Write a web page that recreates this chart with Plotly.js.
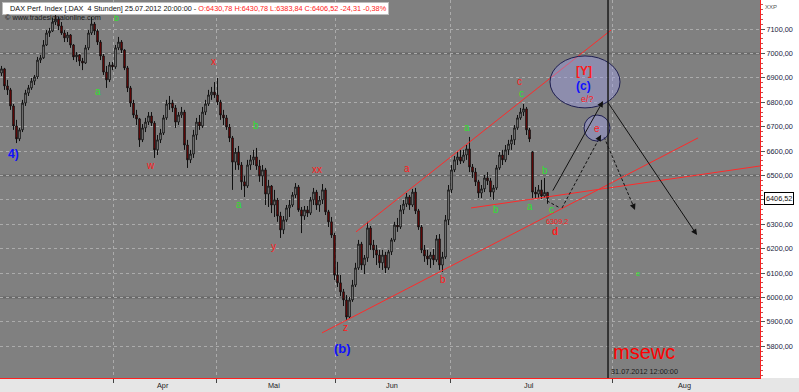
<!DOCTYPE html>
<html><head><meta charset="utf-8">
<script src="https://cdn.plot.ly/plotly-3.0.1.min.js"></script>
<style>html,body{margin:0;padding:0;background:#fff;}#chart{width:799px;height:392px;}</style>
</head><body><div id="chart"></div>
<script>
// ---- DAX 4h bars ----
const openP = [6920,6937,6867,6851,6785,6703,6650,6687,6797,6838,
6859,6887,6904,6973,6982,7035,7084,7092,7129,7141,
7113,7084,7064,7076,7035,6986,6994,6969,6961,7023,
7084,7121,7092,7047,6990,6924,6892,6953,6945,7023,
7047,7014,6941,6859,6797,6748,6732,6646,6695,6719,
6744,6715,6605,6646,6674,6736,6793,6797,6777,6719,
6748,6760,6625,6564,6588,6666,6719,6703,6760,6793,
6830,6842,6830,6801,6748,6736,6699,6654,6555,6596,
6543,6474,6457,6543,6564,6576,6539,6498,6523,6424,
6457,6379,6400,6334,6277,6318,6367,6379,6420,6453,
6359,6334,6359,6346,6400,6432,6379,6400,6441,6351,
6310,6256,6092,6060,6023,5990,5920,5990,6051,6121,
6219,6133,6162,6285,6215,6195,6174,6142,6174,6121,
6187,6236,6297,6289,6359,6383,6412,6379,6432,6355,
6289,6195,6170,6158,6174,6154,6240,6133,6166,6318,
6441,6523,6564,6576,6559,6584,6609,6535,6514,6474,
6428,6445,6490,6478,6432,6449,6531,6584,6564,6605,
6629,6646,6695,6736,6760,6773,6687,6596,6432,6424,
6441,6416,6430.78];
const highP = [6949,6941,6892,6859,6793,6728,6695,6810,6851,6871,
6900,6912,6986,6994,7055,7096,7105,7146,7162,7150,
7129,7096,7088,7080,7039,7006,6998,6982,7035,7096,
7150,7129,7100,7055,6998,6949,6965,6965,7035,7068,
7055,7018,6949,6867,6810,6769,6736,6711,6736,6760,
6760,6723,6666,6691,6748,6810,6826,6810,6789,6760,
6781,6769,6646,6605,6687,6736,6748,6781,6810,6851,
6863,6883,6900,6810,6769,6748,6711,6662,6613,6621,
6555,6498,6564,6584,6605,6613,6564,6543,6531,6482,
6461,6441,6408,6351,6334,6379,6400,6432,6469,6461,
6371,6375,6375,6412,6449,6441,6416,6465,6449,6359,
6330,6265,6146,6092,6035,6010,6002,6072,6142,6236,
6228,6174,6310,6293,6236,6215,6195,6195,6187,6195,
6244,6310,6326,6379,6400,6428,6420,6445,6449,6363,
6297,6215,6195,6187,6199,6256,6260,6187,6338,6461,
6543,6580,6596,6605,6605,6625,6658,6547,6531,6482,
6461,6502,6514,6490,6461,6543,6596,6605,6625,6646,
6666,6707,6748,6777,6793,6781,6695,6600,6453,6461,
6482,6490,6430.78];
const lowP = [6908,6851,6830,6769,6687,6633,6641,6678,6785,6826,
6851,6871,6896,6961,6978,7031,7068,7088,7117,7096,
7076,7047,7047,7023,6973,6965,6949,6932,6957,7014,
7076,7076,7035,6973,6912,6859,6883,6932,6937,7014,
7002,6932,6842,6781,6736,6707,6617,6637,6678,6707,
6703,6572,6584,6633,6666,6728,6769,6760,6695,6707,
6736,6605,6531,6551,6572,6646,6687,6695,6748,6785,
6810,6818,6789,6728,6707,6687,6637,6441,6523,6523,
6441,6412,6449,6523,6543,6523,6474,6457,6379,6371,
6346,6330,6310,6244,6260,6310,6330,6371,6408,6351,
6264,6318,6330,6338,6379,6359,6351,6383,6338,6289,
6244,6072,6043,6006,5965,5908,5912,5982,6043,6113,
6113,6096,6146,6195,6162,6133,6121,6113,6100,6113,
6174,6228,6269,6281,6342,6371,6359,6371,6342,6277,
6182,6146,6133,6121,6133,6146,6113,6105,6158,6297,
6428,6514,6543,6547,6551,6564,6514,6490,6457,6408,
6408,6432,6461,6412,6400,6441,6523,6543,6555,6584,
6605,6625,6687,6728,6744,6666,6637,6408,6408,6408,
6404,6408,6383.84];
const closeP = [6937,6867,6851,6785,6703,6650,6687,6797,6838,6859,
6887,6904,6973,6982,7035,7084,7092,7129,7141,7113,
7084,7064,7076,7035,6986,6994,6969,6961,7023,7084,
7121,7092,7047,6990,6924,6892,6953,6945,7023,7047,
7014,6941,6859,6797,6748,6732,6646,6695,6719,6744,
6715,6605,6646,6674,6736,6793,6797,6777,6719,6748,
6760,6625,6564,6588,6666,6719,6703,6760,6793,6830,
6842,6830,6801,6748,6736,6699,6654,6555,6596,6543,
6474,6457,6543,6564,6576,6539,6498,6523,6424,6457,
6379,6400,6334,6277,6318,6367,6379,6420,6453,6359,
6334,6359,6346,6400,6432,6379,6400,6441,6351,6310,
6256,6092,6060,6023,5990,5920,5990,6051,6121,6219,
6133,6162,6285,6215,6195,6174,6142,6174,6121,6187,
6236,6297,6289,6359,6383,6412,6379,6432,6355,6289,
6195,6170,6158,6174,6154,6240,6133,6166,6318,6441,
6523,6564,6576,6559,6584,6609,6535,6514,6474,6428,
6445,6490,6478,6432,6449,6531,6584,6564,6605,6629,
6646,6695,6736,6760,6773,6687,6650,6432,6424,6441,
6416,6431,6406.52];

const monthLabels = ['Apr','Mai','Jun','Jul','Aug'];
const monthStartBar = [37.17, 71.5, 111.17, 149.5, 203.5];
const monthLabelBar = [53.83, 90.83, 130.17, 175.83, 227.5];
const priceTicks = [5800,5900,6000,6100,6200,6300,6400,6500,6600,6700,6800,6900,7000,7100];
const strongLevels = [6000,6500,7000];
const lastClose = 6406.52;
const cursorBar = 202.17;

// drawn analysis lines (bar index, price)
const upperChannelX = [118.17, 203.17], upperChannelY = [6269, 7096];
const lowerChannelX = [106.83, 232.17], lowerChannelY = [5855, 6654];
const baseLineX = [156.5, 252.83], baseLineY = [6367, 6539];
const solidArrows = [[183.5,6432,200.5,6805],[201.83,6805,231.83,6256]];
const dashedArrows = [[186.83,6367,199.83,6666],[200.83,6658,211.17,6359],[181.83,6396,186.17,6367]];

const GREEN = '#2fe02f', RED = '#ff1a1a', BLUE = '#1010ff';
const waveLabels = [
 ['b',38.2,7146,GREEN,9],['a',32.3,6846,GREEN,10],['x',70.6,6966,RED,10],
 ['b',84.7,6703,GREEN,10],['w',49.7,6543,RED,10],['a',79.3,6382,GREEN,10],
 ['xx',105.3,6525,RED,10],['y',90.6,6208,RED,10],['a',135.3,6530,RED,10],
 ['z',114.5,5876,RED,10],['b',147.3,6075,RED,10],['a',155.3,6696,GREEN,10],
 ['c',172.5,6887,RED,10],['c',173.2,6837,GREEN,10],['b',164.8,6362,GREEN,10],
 ['a',176.2,6372,GREEN,10],['b',181,6520,GREEN,10],['c',183.4,6359,GREEN,10],
 ['6309,2',185.1,6310,RED,7.3],['e',212.2,6099,GREEN,7.5]
];

const idx = closeP.map((_, i) => i);
const traces = [{
  type:'candlestick', x: idx, open: openP, high: highP, low: lowP, close: closeP,
  increasing:{line:{color:'#101010',width:1}, fillcolor:'#bdbdbd'},
  decreasing:{line:{color:'#101010',width:1}, fillcolor:'#a00000'},
  whiskerwidth:0, hoverinfo:'skip', showlegend:false
},{
  type:'scatter', mode:'lines', x: upperChannelX, y: upperChannelY, line:{color:'#ff2a2a',width:1}, hoverinfo:'skip'
},{
  type:'scatter', mode:'lines', x: lowerChannelX, y: lowerChannelY, line:{color:'#ff2a2a',width:1}, hoverinfo:'skip'
},{
  type:'scatter', mode:'lines', x: baseLineX, y: baseLineY, line:{color:'#ff2a2a',width:1}, hoverinfo:'skip'
}];
dashedArrows.forEach(a => traces.push({type:'scatter', mode:'lines', x:[a[0],a[2]], y:[a[1],a[3]],
  line:{color:'#111',width:1,dash:'3px,2px'}, hoverinfo:'skip'}));

const shapes = [];
strongLevels.forEach(v => shapes.push({type:'line', xref:'paper', x0:0, x1:1, yref:'y', y0:v, y1:v,
  line:{color:'#676767', width:2}, layer:'between'}));
shapes.push({type:'rect', xref:'paper', x0:-0.01, x1:1.07, yref:'paper', y0:-0.06, y1:0,
  fillcolor:'#e6e6e6', line:{width:0}, layer:'below'});
shapes.push({type:'circle', xref:'x', yref:'y', x0:182.83, x1:206.17, y0:6777, y1:6990,
  fillcolor:'rgba(160,160,240,0.4)', line:{color:'#1e1e50', width:1}, layer:'above'});
shapes.push({type:'circle', xref:'x', yref:'y', x0:194.17, x1:202.83, y0:6641, y1:6748,
  fillcolor:'rgba(160,160,240,0.4)', line:{color:'#1e1e50', width:1}, layer:'above'});
shapes.push({type:'line', xref:'x', x0:cursorBar, x1:cursorBar, yref:'paper', y0:0, y1:1,
  line:{color:'#1a1a1a', width:1.5}, layer:'above'});
shapes.push({type:'circle', xref:'paper', yref:'paper', x0:3/760, x1:8/760, y0:1-10/378, y1:1-5/378,
  line:{color:'#333',width:1}, fillcolor:'rgba(0,0,0,0)'});

const ann = [];
const FONT = 'Liberation Sans, Arial, sans-serif';
waveLabels.forEach(w => ann.push({xref:'x', yref:'y', x:w[1], y:w[2], text:w[0], showarrow:false,
  font:{family:FONT, size:w[4], color:w[3]}}));
ann.push({xref:'x',yref:'y',x:184.5,y:6272,text:'<b>d</b>',showarrow:false,font:{family:FONT,size:10,color:RED}});
ann.push({xref:'x',yref:'y',x:1.5,y:6588,text:'<b>4)</b>',showarrow:false,xanchor:'left',font:{family:FONT,size:12,color:BLUE}});
ann.push({xref:'x',yref:'y',x:113.7,y:5792,text:'<b>(b)</b>',showarrow:false,font:{family:FONT,size:13,color:BLUE}});
ann.push({xref:'x',yref:'y',x:194.2,y:6930,text:'<b>[Y]</b>',showarrow:false,font:{family:FONT,size:12,color:RED}});
ann.push({xref:'x',yref:'y',x:193.9,y:6868,text:'<b>(c)</b>',showarrow:false,font:{family:FONT,size:12,color:BLUE}});
ann.push({xref:'x',yref:'y',x:195.2,y:6815,text:'e/?',showarrow:false,font:{family:FONT,size:9,color:RED}});
ann.push({xref:'x',yref:'y',x:198.5,y:6693,text:'e',showarrow:false,font:{family:FONT,size:10,color:RED}});
ann.push({xref:'x',yref:'y',x:203.2,y:5777,text:'msewc',showarrow:false,xanchor:'left',font:{family:FONT,size:20,color:'#ff0000'}});
ann.push({xref:'x',yref:'y',x:202.5,y:5695,text:'31.07.2012 12:00:00',showarrow:false,xanchor:'left',font:{family:FONT,size:7.3,color:'#1a1a1a'}});
// arrows
solidArrows.forEach(a => ann.push({xref:'x',yref:'y',axref:'x',ayref:'y',x:a[2],y:a[3],ax:a[0],ay:a[1],
  showarrow:true,arrowhead:2,arrowsize:1.2,arrowwidth:1,arrowcolor:'#111',text:''}));
dashedArrows.forEach(a => ann.push({xref:'x',yref:'y',axref:'x',ayref:'y',x:a[2],y:a[3],
  ax:a[2]-(a[2]-a[0])*0.08, ay:a[3]-(a[3]-a[1])*0.08,
  showarrow:true,arrowhead:2,arrowsize:1.2,arrowwidth:1,arrowcolor:'#111',text:''}));
// month labels
monthLabels.forEach((m,i) => ann.push({xref:'x',yref:'paper',x:monthLabelBar[i],y:-7/378,yanchor:'middle',
  text:m,showarrow:false,font:{family:FONT,size:7.3,color:'#222'}}));
// header
ann.push({xref:'paper',yref:'paper',x:2/760,y:1-2/378,xanchor:'left',yanchor:'top',showarrow:false,
  text:'&nbsp;&nbsp;&nbsp;DAX Perf. Index [.DAX &nbsp;4 Stunden] 25.07.2012 20:00:00 - <span style="color:#ff2020">O:6430,78 H:6430,78 L:6383,84 C:6406,52 -24,31 -0,38%</span>',
  bgcolor:'#ffffff',bordercolor:'#bdbdbd',borderwidth:1,borderpad:1,font:{family:FONT,size:7.3,color:'#111'}});
ann.push({xref:'paper',yref:'paper',x:3/760,y:1-17/378,xanchor:'left',yanchor:'middle',showarrow:false,
  text:'© www.tradesignalonline.com',font:{family:FONT,size:7.3,color:'#1a1a1a'}});
ann.push({xref:'paper',yref:'y',x:764/760,y:lastClose,xanchor:'left',yanchor:'middle',showarrow:false,
  text:'6406,52',bgcolor:'#ffffff',bordercolor:'#000',borderwidth:1,borderpad:1,font:{family:FONT,size:7.3,color:'#111'}});
ann.push({xref:'paper',yref:'paper',x:763/760,y:1-7/378,xanchor:'left',yanchor:'middle',showarrow:false,
  text:'XXP',font:{family:FONT,size:6,color:'#555'}});

const layout = {
  width:799, height:392, margin:{l:0,r:39,t:0,b:14,pad:0},
  paper_bgcolor:'#ffffff', plot_bgcolor:'#808080', showlegend:false, separators:',.',
  font:{family:FONT, size:7.3, color:'#222'},
  xaxis:{range:[-0.5,252.83], tickmode:'array', tickvals:monthStartBar, ticktext:monthStartBar.map(()=>''),
    showgrid:true, gridcolor:'#ababab', griddash:'dot', gridwidth:1, ticks:'outside', ticklen:4, tickcolor:'#444',
    showline:true, linecolor:'#ff2020', linewidth:1, mirror:true, zeroline:false,
    rangeslider:{visible:false}, fixedrange:true},
  yaxis:{range:[5670,7219.3], side:'right', tickmode:'array', tickvals:priceTicks, tickformat:'.2f',
    showgrid:true, gridcolor:'#ababab', griddash:'dot', gridwidth:1, ticks:'outside', ticklen:4, tickcolor:'#555',
    tickfont:{family:FONT,size:7.3,color:'#1c1c40'}, showline:true, linecolor:'#ff2020', linewidth:1, mirror:true,
    zeroline:false, fixedrange:true,
    minor:{tickmode:'linear', tick0:0, dtick:20, ticks:'outside', ticklen:2, tickcolor:'#c05050', showgrid:false}},
  shapes: shapes, annotations: ann
};
Plotly.newPlot('chart', traces, layout, {staticPlot:true, displayModeBar:false});
</script></body></html>
